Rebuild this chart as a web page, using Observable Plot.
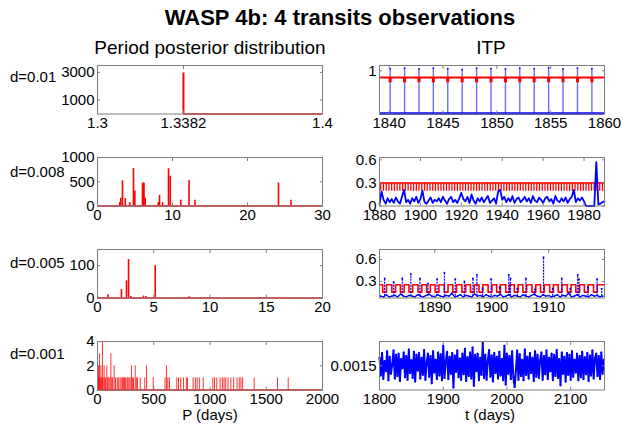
<!DOCTYPE html>
<html><head><meta charset="utf-8">
<script src="https://cdn.jsdelivr.net/npm/d3@7"></script>
<script src="https://cdn.jsdelivr.net/npm/@observablehq/plot@0.6"></script>
<style>
html,body{margin:0;padding:0;background:#fff;}
#root{position:relative;width:623px;height:425px;overflow:hidden;font-family:"Liberation Sans",Arial,Helvetica,sans-serif;color:#000;}
.lbl{position:absolute;white-space:nowrap;line-height:1;transform:translate(-50%,-50%);}
.lbll{position:absolute;white-space:nowrap;line-height:1;transform:translate(0,-50%);}
.panel{position:absolute;}
</style></head><body><div id="root"></div>
<script>
// ---------------- DATA ----------------
const titleText = "WASP 4b: 4 transits observations";
const leftTitle = "Period posterior distribution";
const rightTitle = "ITP";
const rowLabels = ["d=0.01", "d=0.008", "d=0.005", "d=0.001"];
const xTitleLeft = "P (days)";
const xTitleRight = "t (days)";

// Left column: period posterior histograms
const L1_xTicks = [1.3, 1.3382, 1.4];
const L1_yTicks = [1000, 3000];
const L1_P = [1.3382];
const L1_n = [2960];
const L1_baseRange = [1.3382, 1.4];

const L2_xTicks = [0, 10, 20, 30];
const L2_yTicks = [0, 500, 1000];
const L2_P = [2.98, 3.1, 3.33, 3.7, 4.3, 4.8, 4.98, 6.0, 6.1, 6.2, 6.36, 8.1, 8.27, 8.67, 9.47, 9.7, 11.1, 12.2, 13.0, 24.13, 25.8];
const L2_n = [70, 160, 520, 150, 70, 770, 310, 470, 470, 470, 160, 70, 220, 70, 770, 615, 120, 525, 120, 475, 120];
const L2_baseRange = [0, 30];

const L3_xTicks = [0, 5, 10, 15, 20];
const L3_yTicks = [0, 100];
const L3_P = [0.95, 1.72, 2.13, 2.58, 2.76, 2.96, 4.09, 4.3, 5.13, 6.96, 8.15, 13.8];
const L3_n = [10, 1, 26, 53, 119, 5, 6, 5, 100, 1, 4, 1];
const L3_baseRange = [0, 20];

const L4_xTicks = [0, 500, 1000, 1500, 2000];
const L4_yTicks = [0, 2, 4];
const L4_P = [44, 18, 119, 9, 30, 59, 83, 148, 302, 335, 436, 613,
  3, 13, 24, 36, 50, 66, 72, 90, 100, 110, 127, 135, 160, 175, 185, 200, 210, 222, 230, 240, 250, 262, 270, 280, 290, 310, 320, 345, 355, 380, 420, 495,
  600, 625, 640, 705, 720, 740, 765, 790, 800, 850, 870, 885, 905, 940, 1025, 1040, 1060, 1090, 1110, 1125, 1140, 1160, 1185, 1210, 1240, 1260, 1275, 1290, 1393, 1600, 1695];
const L4_n = [4, 3, 3, 2, 2, 2, 2, 2, 2, 2, 2, 2,
  1, 1, 1, 1, 1, 1, 1, 1, 1, 1, 1, 1, 1, 1, 1, 1, 1, 1, 1, 1, 1, 1, 1, 1, 1, 1, 1, 1, 1, 1, 1, 1,
  1, 1, 1, 1, 1, 1, 1, 1, 1, 1, 1, 1, 1, 1, 1, 1, 1, 1, 1, 1, 1, 1, 1, 1, 1, 1, 1, 1, 1, 1, 1];
const L4_baseRange = [0, 2000];

// Right column: ITP time series
const R1_xTicks = [1840, 1845, 1850, 1855, 1860];
const R1_yTicks = [1];
const R1_transits = [1840.09, 1841.43, 1842.77, 1844.10, 1845.44, 1846.78, 1848.12, 1849.46, 1850.80, 1852.13, 1853.47, 1854.81, 1856.15, 1857.49, 1858.83];
const R1_peaks = [1.05, 1.06, 1.04, 1.06, 1.05, 1.03, 1.06, 1.05, 1.04, 1.06, 1.05, 1.07, 1.04, 1.06, 1.05];
const R1_baseLevel = [0.012];
const R1_redLevels = [0.845, 0.72];

const R2_xTicks = [1880, 1900, 1920, 1940, 1960, 1980];
const R2_yTicks = [0, 0.3, 0.6];
const R2_t0 = 1880, R2_dt = 1;
const R2_v = [
  0.02,0.19,0.08,0.03,0.10,0.05,0.09,0.04,0.11,0.06,
  0.03,0.12,0.21,0.05,0.08,0.03,0.10,0.06,0.12,0.04,
  0.09,0.20,0.05,0.03,0.07,0.11,0.04,0.08,0.06,0.10,
  0.05,0.12,0.07,0.03,0.09,0.12,0.05,0.08,0.04,0.10,
  0.17,0.09,0.06,0.12,0.04,0.15,0.07,0.03,0.10,0.06,
  0.11,0.05,0.09,0.13,0.04,0.07,0.10,0.03,0.19,0.21,
  0.08,0.12,0.05,0.10,0.06,0.13,0.04,0.09,0.11,0.05,
  0.08,0.12,0.06,0.10,0.04,0.13,0.07,0.05,0.11,0.08,
  0.04,0.10,0.12,0.06,0.09,0.03,0.13,0.07,0.05,0.10,
  0.06,0.11,0.04,0.09,0.12,0.21,0.05,0.10,0.07,0.11,
  0.06,0.00,0.00,0.00,0.00,0.00,0.57,0.02,0.03,0.05,
  0.06];
const R2_transits = [1880.60,1881.94,1883.28,1884.61,1885.95,1887.29,1888.63,1889.97,1891.31,1892.64,
  1893.98,1895.32,1896.66,1898.00,1899.33,1900.67,1902.01,1903.35,1904.69,1906.03,
  1907.36,1908.70,1910.04,1911.38,1912.72,1914.06,1915.39,1916.73,1918.07,1919.41,
  1920.75,1922.08,1923.42,1924.76,1926.10,1927.44,1928.78,1930.11,1931.45,1932.79,
  1934.13,1935.47,1936.80,1938.14,1939.48,1940.82,1942.16,1943.50,1944.83,1946.17,
  1947.51,1948.85,1950.19,1951.52,1952.86,1954.20,1955.54,1956.88,1958.22,1959.55,
  1960.89,1962.23,1963.57,1964.91,1966.25,1967.58,1968.92,1970.26,1971.60,1972.94,
  1974.27,1975.61,1976.95,1978.29,1979.63,1980.97,1982.30,1983.64,1984.98,1986.32,
  1987.66,1989.00];
const R2_redLevels = [0.3, 0.19];

const R3_xTicks = [1890, 1900, 1910];
const R3_yTicks = [0.3, 0.6];
const R3_t0 = 1880.5, R3_dt = 0.5;
const R3_base = [
  0.10,0.09,0.12,0.09,0.10,0.11,0.09,0.13,0.10,0.09,
  0.11,0.10,0.09,0.12,0.10,0.09,0.11,0.13,0.10,0.09,
  0.12,0.10,0.09,0.11,0.10,0.14,0.09,0.10,0.12,0.09,
  0.11,0.10,0.09,0.13,0.10,0.11,0.09,0.12,0.10,0.09,
  0.11,0.10,0.13,0.09,0.10,0.12,0.09,0.11,0.10,0.09,
  0.12,0.10,0.09,0.11,0.13,0.10,0.09,0.12,0.10,0.11,
  0.09,0.10,0.12,0.09,0.11,0.10,0.14,0.09,0.10,0.12,
  0.09,0.11,0.10,0.09,0.12,0.10,0.11,0.09,0.10];
const R3_spikeT = [1881.2,1882.8,1884.3,1885.8,1887.4,1888.8,1890.4,1891.7,1893.6,1895.2,1896.7,1897.4,1898.4,1899.9,1901.4,1903.0,1903.3,1904.5,1906.0,1907.6,1909.1,1910.7,1912.3,1913.8,1915.1,1915.3,1916.9,1918.5,1919.3];
const R3_spikeV = [0.34,0.29,0.34,0.40,0.34,0.27,0.33,0.42,0.33,0.30,0.34,0.39,0.20,0.33,0.22,0.39,0.34,0.20,0.34,0.19,0.63,0.20,0.34,0.20,0.39,0.33,0.22,0.33,0.20];
const R3_notches = [1881.2,1882.8,1884.3,1885.8,1887.4,1888.9,1890.4,1892.0,1893.5,1895.1,1896.6,1898.1,1899.7,1901.2,1902.8,1904.3,1905.8,1907.4,1908.9,1910.5,1912.0,1913.6,1915.1,1916.6,1918.2];
const R3_redLevels = [0.255, 0.155];
const R3_notchHalfWidth = 0.33;

const R4_xTicks = [1800, 1900, 2000, 2100];
const R4_yTicks = [0.0015];
const R4_t0 = 1800, R4_dt = 2;
const R4_v1e5 = [
  163,134,171,128,158,141,174,126,165,137,152,175,129,168,133,170,125,161,146,172,131,166,127,177,138,159,130,173,124,168,142,171,129,163,135,176,127,155,170,132,
  166,121,174,139,160,128,172,134,169,126,183,130,158,173,128,165,137,171,114,167,140,175,131,162,127,170,136,178,125,164,133,172,129,180,117,168,141,170,126,163,
  135,188,130,168,127,159,176,132,167,124,171,138,165,129,173,134,161,126,183,119,170,137,166,128,174,131,115,142,175,127,169,133,160,126,177,135,165,129,171,138,
  163,125,174,132,168,130,159,172,127,166,136,175,128,163,141,170,126,168,133,176,130,161,118,172,137,165,124,171,135,168,127,174,132,160,139,170,126,166,131,173,
  128,164,136,171,125,167,134,175,129,162,170,133,166,128,172,137,160];

// ---------------- LAYOUT / DRAW ----------------
const FONT = '"Liberation Sans", Arial, Helvetica, sans-serif';
const ML = 70, MR = 25, MT = 12, MB = 30;
const BOX_W = 225, BOX_H = 48.5;
const colLeft = [97, 379];
const rowTop = [65, 157, 249, 341];
const RED = "#ff0000", BLUE = "#0000ff", AX = "#7f7f7f";
const fmt = d => String(d);
const root = document.getElementById("root");

function panel(col, row, {x, y, xTicks, yTicks, marks}) {
  const svg = Plot.plot({
    width: BOX_W + ML + MR, height: BOX_H + MT + MB,
    marginLeft: ML, marginRight: MR, marginTop: MT, marginBottom: MB,
    x: {domain: x, label: null},
    y: {domain: y, label: null},
    style: {background: "transparent", overflow: "visible", fontFamily: FONT, fontSize: "15px", color: "#000"},
    marks: [
      ...marks,
      Plot.frame({stroke: AX, strokeWidth: 1}),
      Plot.axisX(xTicks, {anchor: "bottom", tickSize: -3, tickPadding: 6, tickFormat: fmt, stroke: AX, fill: "#000", label: null}),
      Plot.axisX(xTicks, {anchor: "top", tickSize: -3, tickFormat: () => "", stroke: AX, label: null}),
      Plot.axisY(yTicks, {anchor: "left", tickSize: -3, tickPadding: 6, tickFormat: fmt, stroke: AX, fill: "#000", label: null}),
      Plot.axisY(yTicks, {anchor: "right", tickSize: -3, tickFormat: () => "", stroke: AX, label: null})
    ]
  });
  svg.classList.add("panel");
  svg.style.left = (colLeft[col] - ML) + "px";
  svg.style.top = (rowTop[row] - MT) + "px";
  root.appendChild(svg);
}

function label(text, cx, cy, size, bold, leftAlign) {
  const d = document.createElement("div");
  d.className = leftAlign ? "lbll" : "lbl";
  d.textContent = text;
  d.style.left = cx + "px"; d.style.top = cy + "px";
  d.style.fontSize = size + "px";
  if (bold) d.style.fontWeight = "bold";
  root.appendChild(d);
}

const zip = (a, b, ka, kb) => a.map((v, i) => ({[ka]: v, [kb]: b[i]}));
const series = (t0, dt, vals) => vals.map((v, i) => ({t: t0 + i * dt, v}));

function hist(P, n, range, w) {
  return [
    Plot.ruleY([{x1: range[0], x2: range[1]}], {y: () => 0, x1: "x1", x2: "x2", stroke: RED, strokeWidth: 1.5}),
    Plot.ruleX(zip(P, n, "P", "n"), {x: "P", y1: () => 0, y2: "n", stroke: RED, strokeWidth: w})
  ];
}

// Left column
panel(0, 0, {x: [1.3, 1.4], y: [0, 3500], xTicks: L1_xTicks, yTicks: L1_yTicks, marks: hist(L1_P, L1_n, L1_baseRange, 2)});
panel(0, 1, {x: [0, 30], y: [0, 1000], xTicks: L2_xTicks, yTicks: L2_yTicks, marks: hist(L2_P, L2_n, L2_baseRange, 1.6)});
panel(0, 2, {x: [0, 20], y: [0, 150], xTicks: L3_xTicks, yTicks: L3_yTicks, marks: hist(L3_P, L3_n, L3_baseRange, 1.6)});
panel(0, 3, {x: [0, 2000], y: [0, 4], xTicks: L4_xTicks, yTicks: L4_yTicks, marks: [
  Plot.ruleY([{x1: L4_baseRange[0], x2: L4_baseRange[1]}], {y: () => 0, x1: "x1", x2: "x2", stroke: RED, strokeWidth: 1.5}),
  Plot.ruleX(zip(L4_P, L4_n, "P", "n"), {x: "P", y1: () => 0, y2: "n", stroke: RED, strokeWidth: 1, strokeOpacity: 0.8})
]});

// Right column
const R1_dom = [1839.1, 1860];
panel(1, 0, {x: R1_dom, y: [0, 1.12], xTicks: R1_xTicks, yTicks: R1_yTicks, marks: [
  Plot.ruleX(zip(R1_transits, R1_peaks, "t", "h"), {x: "t", y1: () => R1_baseLevel[0], y2: "h", stroke: "#3b3bff", strokeWidth: 1.4, strokeOpacity: 0.75}),
  Plot.dot(zip(R1_transits, R1_peaks, "t", "h"), {x: "t", y: "h", r: 0.9, fill: BLUE}),
  Plot.ruleY(R1_baseLevel, {stroke: BLUE, strokeWidth: 2.5}),
  Plot.ruleY([R1_redLevels[0]], {stroke: RED, strokeWidth: 2}),
  Plot.ruleX(R1_transits, {y1: () => R1_redLevels[1], y2: () => R1_redLevels[0], stroke: RED, strokeWidth: 3})
]});

panel(1, 1, {x: [1880, 1990], y: [0, 0.63], xTicks: R2_xTicks, yTicks: R2_yTicks, marks: [
  Plot.ruleY([R2_redLevels[0]], {stroke: RED, strokeWidth: 1.5}),
  Plot.ruleX(R2_transits, {y1: () => R2_redLevels[1], y2: () => R2_redLevels[0], stroke: RED, strokeWidth: 1.3}),
  Plot.line(series(R2_t0, R2_dt, R2_v), {x: "t", y: "v", stroke: BLUE, strokeWidth: 1.8})
]});

const R3_dom = [1880.3, 1919.8];
const R3_redPath = [{t: R3_dom[0], v: R3_redLevels[0]}];
R3_notches.forEach(c => {
  R3_redPath.push({t: c - R3_notchHalfWidth, v: R3_redLevels[0]}, {t: c - R3_notchHalfWidth, v: R3_redLevels[1]},
                  {t: c + R3_notchHalfWidth, v: R3_redLevels[1]}, {t: c + R3_notchHalfWidth, v: R3_redLevels[0]});
});
R3_redPath.push({t: R3_dom[1], v: R3_redLevels[0]});
panel(1, 2, {x: R3_dom, y: [0.075, 0.736], xTicks: R3_xTicks, yTicks: R3_yTicks, marks: [
  Plot.line(R3_redPath, {x: "t", y: "v", stroke: RED, strokeWidth: 1.6}),
  Plot.line(series(R3_t0, R3_dt, R3_base), {x: "t", y: "v", stroke: BLUE, strokeWidth: 1.3}),
  Plot.dot(series(R3_t0, R3_dt, R3_base), {x: "t", y: "v", r: 0.8, fill: BLUE}),
  Plot.ruleX(zip(R3_spikeT, R3_spikeV, "t", "h"), {x: "t", y1: () => 0.1, y2: "h", stroke: BLUE, strokeWidth: 1.2, strokeDasharray: "2,1"}),
  Plot.dot(zip(R3_spikeT, R3_spikeV, "t", "h"), {x: "t", y: "h", r: 1, fill: BLUE})
]});

const R4_data = R4_v1e5.map((v, i) => ({t: R4_t0 + i * R4_dt, v: v / 1e5}));
panel(1, 3, {x: [1800, 2153], y: [0.0011, 0.0019], xTicks: R4_xTicks, yTicks: R4_yTicks, marks: [
  Plot.line(R4_data, {x: "t", y: "v", stroke: BLUE, strokeWidth: 2}),
  Plot.dot(R4_data, {x: "t", y: "v", r: 1, fill: BLUE})
]});

// Text
label(titleText, 340, 18, 22, true);
label(leftTitle, 210, 47, 19, false);
label(rightTitle, 491, 47, 19, false);
const rowLabelY = [76, 171, 262, 353];
rowLabels.forEach((t, i) => label(t, 10, rowLabelY[i], 15, false, true));
label(xTitleLeft, 210, 414, 15, false);
label(xTitleRight, 490, 414, 15, false);
</script></body></html>
